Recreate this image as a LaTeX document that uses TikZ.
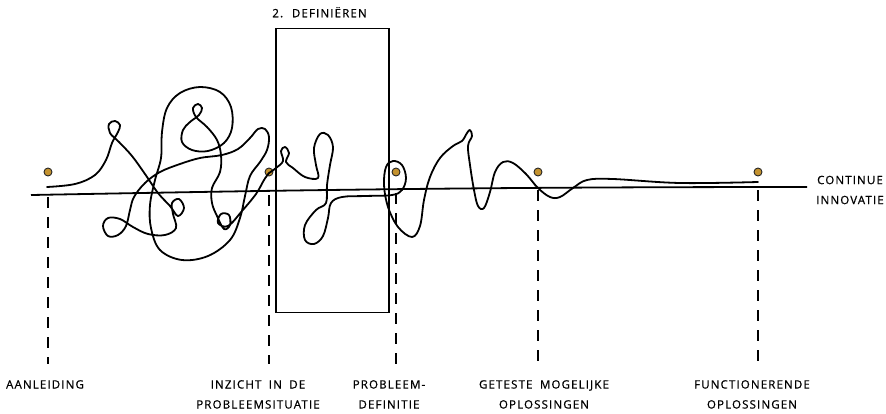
\documentclass[tikz,border=0pt]{standalone}
\usepackage{fontspec}
\setmainfont{Open Sans}[LetterSpace=10,FakeBold=0.8,WordSpace=1.8]
\usepackage{tikz}
\usetikzlibrary{calc,positioning}
\definecolor{dotgold}{HTML}{C4922E}

\begin{document}
\begin{tikzpicture}[x=1pt,y=-1pt,
    lbl/.style={align=center,font=\fontsize{11.5}{20}\selectfont,inner sep=0pt},
    mijl/.style={circle,draw=black!85,fill=dotgold,line width=0.9pt,minimum size=8pt,inner sep=0pt},
    tijdlijn/.style={line width=1.8pt},
    streep/.style={line width=1.6pt,dash pattern=on 11pt off 9pt},
    vakje/.style={draw,line width=1.7pt,minimum width=113pt,minimum height=284pt,inner sep=0pt},
    krabbel/.style={line width=1.8pt,line cap=round,line join=round}]
  \useasboundingbox (0,0) rectangle (886,413);

  % fase definieren
  \node[vakje] (vak) at (332.5,170.5) {};
  \node[lbl,anchor=south west] (titel) at ($(vak.north west)+(-3,-10)$) {2. DEFINIËREN};

  % tijdlijn
  \coordinate (lijnA) at (31,195);
  \coordinate (lijnB) at (807,187);
  \draw[tijdlijn] (lijnA) .. controls (250,191) and (450,187) .. (lijnB);
  \node[lbl] (innov) at (850,190) {CONTINUE\\INNOVATIE};

  % mijlpalen
  \node[mijl] (m1) at (48,172) {};
  \node[mijl] (m2) at (269,172) {};
  \node[mijl] (m3) at (396,172) {};
  \node[mijl] (m4) at (538,172) {};
  \node[mijl] (m5) at (758,172) {};

  \node[lbl,anchor=north] (l1) at (45,380) {AANLEIDING};
  \node[lbl,anchor=north] (l2) at (258,380) {INZICHT IN DE\\PROBLEEMSITUATIE};
  \node[lbl,anchor=north] (l3) at (389,380) {PROBLEEM-\\DEFINITIE};
  \node[lbl,anchor=north] (l4) at (544,380) {GETESTE MOGELIJKE\\OPLOSSINGEN};
  \node[lbl,anchor=north] (l5) at (752,380) {FUNCTIONERENDE\\OPLOSSINGEN};

  \coordinate (t1) at (48,197);  \coordinate (s1) at (48,364);
  \coordinate (t2) at (269,195); \coordinate (s2) at (269,364);
  \coordinate (t3) at (396,193); \coordinate (s3) at (396,364);
  \coordinate (t4) at (538,190); \coordinate (s4) at (538,364);
  \coordinate (t5) at (758,190); \coordinate (s5) at (758,364);
  \foreach \i in {1,...,5}
    \draw[streep] (t\i) -- (s\i);

  % het kluwen
  \draw[krabbel] plot[smooth,tension=0.6] coordinates {
    (47,187) (75,184) (95,175) (106,160) (112,143) (118,132) (120,125) (115,121)
    (109,124) (110,133) (119,142) (132,156) (145,174) (158,193) (170,206)
    (178,216) (184,208) (179,199) (172,203) (173,214) (176,228) (165,235)
    (148,234) (133,227) (120,219) (108,218) (103,226) (108,236) (118,235)
    (126,226) (130,210) (134,197) (145,183) (160,172) (180,164) (200,158)
    (222,155) (238,149) (250,138) (258,129) (265,129) (269,137) (267,150)
    (260,162) (250,176) (245,196) (240,218) (230,240) (208,256) (182,260)
    (160,250) (151,228) (150,205) (155,180) (161,158) (162,132) (167,108)
    (180,93) (200,87) (220,92) (231,107) (232,128) (224,143) (208,151)
    (192,150) (182,142) (183,130) (190,122) (199,115) (202,108) (198,104)
    (193,108) (196,117) (207,127) (217,140) (221,155) (220,172) (212,188)
    (212,203) (217,216) (224,229) (230,225) (229,215) (221,214) (218,223)
    (228,226) (242,211) (256,194) (264,180) (269,173)};
  \draw[krabbel] plot[smooth,tension=0.6] coordinates {
    (269,173) (276,168) (283,161) (281,151) (285,147) (289,153) (286,162)
    (293,168) (305,177) (318,178) (316,165) (314,148) (320,134) (328,135)
    (333,147) (330,165) (327,185) (326,203) (316,210) (305,225) (305,240)
    (314,244) (323,236) (328,218) (331,203) (342,197) (365,196) (392,195)
    (402,190) (406,178) (402,165) (393,161) (386,167) (384,185) (388,207)
    (398,227) (412,237) (420,226) (424,200) (430,177) (440,158) (453,146)
    (462,141) (467,133) (470,130) (472,136) (468,146) (470,165) (474,190)
    (478,206) (484,208) (490,192) (495,172) (503,162) (513,163) (526,174)
    (538,188) (550,197) (560,197) (573,188) (587,180) (613,179) (680,183)
    (758,182)};
\end{tikzpicture}
\end{document}
